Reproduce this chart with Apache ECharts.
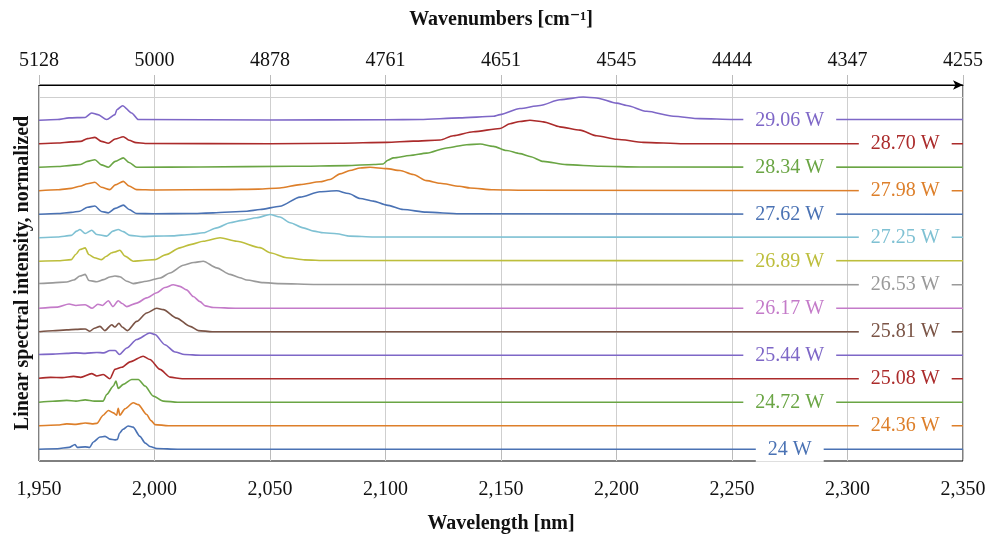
<!DOCTYPE html>
<html>
<head>
<meta charset="utf-8">
<script src="https://cdn.jsdelivr.net/npm/echarts@6.0.0/dist/echarts.min.js"></script>
<style>
  html, body { margin: 0; padding: 0; background: #fff; }
  #chart { width: 991px; height: 539px; }
</style>
</head>
<body>
<div id="chart"></div>
<script>
// ---- Data (wavelength nm, normalized intensity) ----
const powerLabels = ['24 W','24.36 W','24.72 W','25.08 W','25.44 W','25.81 W','26.17 W','26.53 W','26.89 W','27.25 W','27.62 W','27.98 W','28.34 W','28.70 W','29.06 W'];
const labelWavelengths = [2275, 2325];
const bottomTickLabels = ['1,950','2,000','2,050','2,100','2,150','2,200','2,250','2,300','2,350'];
const topTickLabels = ['5128','5000','4878','4761','4651','4545','4444','4347','4255'];
const gridValues = [0, 5, 10, 15];
const colors = ['#4a72b4','#dd7f2a','#6aa544','#ab2b2b','#7e67c7','#7b5446','#c47bc9','#9a9a9a','#bdbe3c','#7fc1d3','#4a72b4','#dd7f2a','#6aa544','#ab2b2b','#7e67c7'];

const s24_00 = [[1950,0],[1958,0.02],[1963,0.08],[1965.6,0.2],[1966.5,0.08],[1970,0.1],[1972,0.08],[1973.4,0.3],[1976.4,0.52],[1978.6,0.55],[1980.7,0.43],[1982.9,0.4],[1984,0.42],[1984.8,0.68],[1986.4,0.85],[1988.6,0.99],[1990.7,0.94],[1993.7,0.55],[1996,0.26],[1998,0.12],[2001,0.03],[2010,0],[2350,0]];
const s24_36 = [[1950,0],[1958,0.03],[1962,0.08],[1966,0.06],[1970,0.12],[1973,0.08],[1975,0.1],[1977.8,0.45],[1980,0.65],[1982.2,0.55],[1983.6,0.45],[1984.3,0.74],[1985,0.45],[1987.2,0.72],[1990.8,0.98],[1993,0.9],[1996.6,0.48],[1998.5,0.22],[2000.2,0.05],[2006,0],[2350,0]];
const s24_72 = [[1950,0],[1956,0.04],[1962,0.08],[1966,0.05],[1970,0.1],[1974,0.05],[1977.8,0.05],[1979.3,0.33],[1982.2,0.69],[1983.3,0.9],[1984.3,0.59],[1986.5,0.76],[1990.1,0.97],[1993,0.97],[1995.9,0.69],[1999.5,0.26],[2003.8,0.05],[2010,0],[2350,0]];
const s25_08 = [[1950,0.02],[1955,0.06],[1960,0.05],[1965,0.1],[1968,0.06],[1972.8,0.22],[1975,0.12],[1977.8,0.18],[1980.7,0],[1982.9,0.4],[1985.8,0.49],[1989.4,0.72],[1995.1,0.96],[1998,0.82],[2002.4,0.4],[2006.7,0.07],[2012,0],[2350,0]];
const s25_44 = [[1950,0.03],[1956,0.05],[1962,0.08],[1966,0.1],[1970,0.08],[1975,0.12],[1978,0.1],[1980.7,0.2],[1983,0.2],[1984.8,0.03],[1988,0.31],[1992.3,0.67],[1998,0.95],[2000.2,0.88],[2004.5,0.45],[2008.9,0.14],[2013,0.03],[2020,0],[2350,0]];
const s25_81 = [[1950,0],[1956,0.04],[1962,0.08],[1966,0.1],[1970,0.12],[1972,0.02],[1974,0.15],[1976.4,0.23],[1978.5,0.05],[1981.5,0.3],[1982.8,0.2],[1984.6,0.36],[1986,0.2],[1988.3,0.05],[1992.3,0.44],[1996.6,0.8],[2001,1.0],[2003.8,0.94],[2009.6,0.58],[2015.4,0.23],[2019,0.05],[2025,0],[2350,0]];
const s26_17 = [[1950,0],[1958,0.05],[1963,0.18],[1966,0.12],[1970,0.15],[1973,0],[1975.5,0.17],[1977.5,0.12],[1980,0.32],[1982,0.07],[1984.3,0.32],[1986,0.2],[1988,0.07],[1992.3,0.22],[1996.6,0.44],[2001,0.66],[2004.5,0.88],[2008.1,1.0],[2011,0.93],[2013.9,0.78],[2016.8,0.5],[2019.7,0.28],[2022,0.1],[2025.5,0.03],[2035,0],[2350,0]];
const s26_53 = [[1950,0.05],[1956,0.08],[1962,0.12],[1965,0.2],[1967.7,0.37],[1970,0.44],[1971.6,0.18],[1975,0.13],[1978,0.22],[1980.7,0.33],[1982.9,0.37],[1985,0.34],[1988,0.15],[1990.8,0.05],[1996.6,0.15],[2002.4,0.29],[2006.7,0.5],[2012.5,0.83],[2017,0.95],[2021.1,1.0],[2026.9,0.72],[2032.7,0.44],[2037,0.3],[2039.9,0.2],[2047.1,0.09],[2054,0.05],[2070,0.01],[2350,0]];
const s26_89 = [[1950,0],[1958,0.02],[1964,0.07],[1966,0.3],[1967.7,0.5],[1970,0.57],[1971.5,0.29],[1974,0.15],[1977.1,0.07],[1979,0.2],[1981.5,0.36],[1983,0.4],[1985,0.47],[1987.2,0.22],[1990.8,0],[1995,0.03],[2000.2,0.07],[2005,0.28],[2011,0.57],[2016,0.72],[2021.1,0.85],[2028.4,1.0],[2035.6,0.85],[2045.7,0.58],[2050,0.36],[2057.2,0.15],[2065,0.06],[2074.5,0.03],[2350,0.02]];
const s27_25 = [[1950,0],[1958,0.03],[1964,0.1],[1966.3,0.28],[1967.7,0.35],[1970,0.18],[1972.8,0.32],[1975,0.14],[1979.3,0.07],[1982,0.28],[1984.3,0.35],[1986.5,0.26],[1989.4,0.1],[1995,0.05],[2000.2,0.07],[2008,0.08],[2015.4,0.14],[2021.1,0.21],[2027,0.42],[2032.7,0.64],[2038,0.74],[2044.2,0.85],[2050,0.99],[2054.3,0.88],[2058.7,0.64],[2064.4,0.42],[2069,0.28],[2073.1,0.21],[2078.9,0.17],[2084.6,0.07],[2095,0.03],[2350,0.02]];
const s27_62 = [[1950,0],[1958,0.03],[1964,0.08],[1967.7,0.13],[1971,0.3],[1974.2,0.35],[1977,0.12],[1980,0.06],[1983,0.25],[1986.5,0.39],[1989,0.2],[1992.3,0.03],[2000,0.02],[2015,0.03],[2025.5,0.06],[2040,0.13],[2045.7,0.2],[2054.3,0.34],[2063,0.73],[2071.6,0.96],[2078.9,1.0],[2084,0.88],[2089,0.67],[2094.7,0.56],[2100.5,0.39],[2107.7,0.2],[2117.8,0.09],[2132,0.02],[2350,0]];
const s27_98 = [[1950,0],[1958,0.04],[1964,0.1],[1967.7,0.19],[1971,0.3],[1974.2,0.36],[1977,0.15],[1980.7,0.05],[1983,0.25],[1986.5,0.4],[1989,0.2],[1992.3,0.05],[2000,0.03],[2030,0.05],[2045,0.07],[2054.3,0.12],[2063,0.26],[2071.6,0.38],[2076,0.48],[2080.3,0.72],[2084.6,0.86],[2089,0.97],[2093.3,1.0],[2100.5,0.94],[2106.3,0.86],[2112,0.69],[2117.8,0.43],[2123.6,0.32],[2132,0.19],[2136.6,0.12],[2146.7,0.04],[2160,0.02],[2350,0]];
const s28_34 = [[1950,0],[1958,0.03],[1964,0.08],[1968,0.12],[1971,0.25],[1974.2,0.32],[1977,0.1],[1980,0],[1983,0.25],[1986.5,0.4],[1989,0.2],[1992.3,0],[2020,0.01],[2060,0.04],[2083.2,0.07],[2095,0.12],[2099,0.14],[2101,0.3],[2103.4,0.4],[2110.6,0.5],[2117.8,0.6],[2126.5,0.82],[2135.1,0.96],[2141,0.99],[2146.7,0.89],[2152.5,0.71],[2158.2,0.58],[2162.5,0.46],[2168.3,0.25],[2178.4,0.11],[2192.9,0.04],[2210,0.01],[2350,0]];
const s28_70 = [[1950,0],[1958,0.03],[1964,0.08],[1968,0.1],[1971,0.22],[1974.2,0.27],[1977,0.1],[1980,0.02],[1983,0.2],[1986.5,0.3],[1989,0.15],[1992,0.05],[1996,0.01],[2050,0],[2080,0.02],[2100.5,0.06],[2112,0.11],[2123.6,0.16],[2129.3,0.34],[2138,0.51],[2149.6,0.65],[2153.9,0.85],[2158.2,0.95],[2162.5,1.0],[2168.3,0.93],[2175.5,0.72],[2184.2,0.58],[2191.4,0.34],[2200.1,0.19],[2211.6,0.06],[2229,0],[2350,0]];
const s29_06 = [[1950,0],[1958,0.03],[1963,0.1],[1970,0.12],[1972.8,0.31],[1975.5,0.24],[1979.3,0.03],[1982.9,0.24],[1983.7,0.45],[1986.2,0.62],[1990.1,0.31],[1993,0.03],[2050,0.01],[2100,0.02],[2115,0.03],[2132,0.1],[2146.7,0.17],[2149.6,0.24],[2158.2,0.5],[2166.9,0.63],[2175.5,0.87],[2185.6,0.99],[2191.4,0.95],[2200.1,0.73],[2204.4,0.63],[2213.1,0.38],[2224.6,0.17],[2236.1,0.07],[2250.6,0.03],[2350,0.03]];

const spectra = [s24_00,s24_36,s24_72,s25_08,s25_44,s25_81,s26_17,s26_53,s26_89,s27_25,s27_62,s27_98,s28_34,s28_70,s29_06];

// ---- Chart ----
const FONT = "'Liberation Serif', 'DejaVu Serif', serif";
const chart = echarts.init(document.getElementById('chart'), null, {renderer: 'canvas'});

const series = spectra.map((pts, i) => ({
  type: 'line',
  name: powerLabels[i],
  data: pts.map(p => [p[0], p[1] + i]),
  showSymbol: false,
  symbol: 'none',
  smooth: 0.25,
  smoothMonotone: 'x',
  z: 3,
  lineStyle: { color: colors[i], width: 1.6 },
  itemStyle: { color: colors[i] },
  silent: true,
  markPoint: {
    silent: true,
    z: 6,
    symbol: 'rect',
    symbolSize: 1,
    itemStyle: { color: 'rgba(0,0,0,0)' },
    data: [{ coord: [labelWavelengths[i % 2], i] }],
    label: {
      show: true,
      position: 'inside',
      formatter: powerLabels[i],
      color: colors[i],
      fontFamily: FONT,
      fontSize: 20,
      backgroundColor: '#fff',
      padding: [3, 12, 2, 12]
    }
  }
}));

series.unshift({
  type: 'line',
  data: [],
  z: 1,
  silent: true,
  markLine: {
    silent: true,
    z: 1,
    symbol: 'none',
    label: { show: false },
    lineStyle: { color: '#cfcfcf', width: 1, type: 'solid' },
    data: gridValues.map(v => ({ yAxis: v }))
  }
});

const tickIdx = v => Math.round((v - 1950) / 50);

chart.setOption({
  animation: false,
  grid: { left: 39, right: 28, top: 85, bottom: 77, show: true, borderColor: '#000', borderWidth: 1, backgroundColor: 'transparent' },
  xAxis: [
    {
      type: 'value', position: 'bottom', min: 1950, max: 2350, interval: 50,
      axisLine: { show: false },
      axisTick: { show: true, length: 10, lineStyle: { color: '#bbb' } },
      axisLabel: { margin: 19, fontFamily: FONT, fontSize: 20, color: '#111', formatter: v => bottomTickLabels[tickIdx(v)] },
      splitLine: { show: true, lineStyle: { color: '#cfcfcf' } },
      name: 'Wavelength [nm]', nameLocation: 'middle', nameGap: 53,
      nameTextStyle: { fontFamily: FONT, fontSize: 20, fontWeight: 'bold', color: '#111' }
    },
    {
      type: 'value', position: 'top', min: 1950, max: 2350, interval: 50,
      axisLine: { show: true, lineStyle: { color: '#000', width: 1 }, symbol: ['none', 'arrow'], symbolSize: [7, 10] },
      axisTick: { show: true, length: 10, lineStyle: { color: '#bbb' } },
      axisLabel: { margin: 14, fontFamily: FONT, fontSize: 20, color: '#111', formatter: v => topTickLabels[tickIdx(v)] },
      splitLine: { show: false },
      name: 'Wavenumbers [cm⁻¹]', nameLocation: 'middle', nameGap: 55,
      nameTextStyle: { fontFamily: FONT, fontSize: 20, fontWeight: 'bold', color: '#111' }
    }
  ],
  yAxis: {
    type: 'value', min: -0.5, max: 15.5,
    axisLine: { show: false }, axisTick: { show: false }, axisLabel: { show: false }, splitLine: { show: false },
    name: 'Linear spectral intensity, normalized', nameLocation: 'middle', nameGap: 6, nameRotate: 90,
    nameTextStyle: { fontFamily: FONT, fontSize: 20, fontWeight: 'bold', color: '#111' }
  },
  series: series
});
</script>
</body>
</html>
